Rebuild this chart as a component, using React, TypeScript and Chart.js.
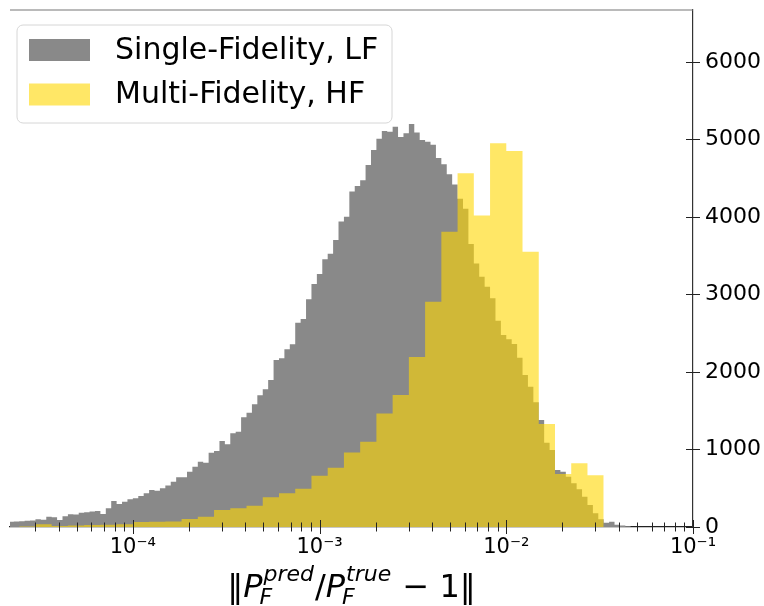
import React, { useEffect, useRef } from 'react';
import { Chart, registerables } from 'chart.js';

Chart.register(...registerables);

// ---------------- data ----------------
const X_MIN_EXP = -4.658;
const X_MAX_EXP = -1;
const Y_MAX = 6670;
const Y_TICKS = [0, 1000, 2000, 3000, 4000, 5000, 6000];
const X_MAJOR_EXPONENTS = [-4, -3, -2, -1];
const X_TICK_LABELS = ['10⁻⁴', '10⁻³', '10⁻²', '10⁻¹'];

const LF_LABEL = 'Single-Fidelity, LF';
const HF_LABEL = 'Multi-Fidelity, HF';

// log10 bin edges: first edge and bin width (decades)
const LF_LOG_BIN = 6 / 207;
const LF_LOG_START = -2 - 93 * LF_LOG_BIN;
const LF_COUNTS = [
  65, 69, 70, 75, 82, 85, 99, 95, 133, 125,
  90, 140, 163, 160, 185, 190, 200, 206, 168, 241,
  335, 297, 327, 357, 370, 400, 434, 477, 467, 499,
  535, 585, 641, 641, 714, 778, 843, 830, 959, 981,
  1110, 1067, 1209, 1230, 1415, 1475, 1583, 1700, 1776, 1897,
  2155, 2176, 2292, 2357, 2636, 2684, 2938, 3135, 3265, 3455,
  3525, 3703, 3940, 4004, 4327, 4400, 4473, 4671, 4865, 5010,
  5110, 5100, 5165, 5030, 5080, 5200, 5088, 4994, 4970, 4930,
  4760, 4680, 4550, 4420, 4235, 4105, 3650, 3400, 3230, 3100,
  2950, 2662, 2477, 2422, 2361, 2185, 1961, 1810, 1609, 1380,
  1088, 994, 735, 714, 649, 563, 486, 391, 284, 177,
  99, 56, 69, 30, 20, 10,
];

const HF_LOG_BIN = 6 / 69;
const HF_LOG_START = -2 - 30 * HF_LOG_BIN;
const HF_COUNTS = [
  5, 35, 12, 20, 25, 30, 35, 65, 69, 72,
  103, 133, 219, 241, 275, 383, 435, 495, 660, 763,
  960, 1101, 1465, 1703, 2192, 2907, 3810, 4565, 4020, 4950,
  4850, 3550, 1328, 685, 822, 667,
];

const LF_COLOR = 'rgb(137,137,137)';
const HF_COLOR = 'rgba(255,215,0,0.6)';

// ---------------- helpers ----------------
function histPoints(start: number, bin: number, counts: number[]) {
  const edge = (i: number) => Math.pow(10, start + i * bin);
  const pts: { x: number; y: number }[] = [{ x: edge(0), y: 0 }];
  counts.forEach((c, i) => pts.push({ x: edge(i), y: c }));
  const n = counts.length;
  pts.push({ x: edge(n), y: counts[n - 1] });
  pts.push({ x: edge(n), y: 0 });
  return pts;
}

const FONT = "'DejaVu Sans'";

function drawTitle(ctx: CanvasRenderingContext2D, cx: number, baseline: number) {
  const S = 32;
  const s = 22;
  const up = `${S}px ${FONT}`;
  const it = `italic ${S}px ${FONT}`;
  const sit = `italic ${s}px ${FONT}`;
  type Part = { t?: string; f?: string; sup?: string; sub?: string };
  const parts: Part[] = [
    { t: '‖', f: up },
    { t: 'P', f: it },
    { sup: 'pred', sub: 'F' },
    { t: '/', f: up },
    { t: 'P', f: it },
    { sup: 'true', sub: 'F' },
    { t: ' − ', f: up },
    { t: '1', f: up },
    { t: '‖', f: up },
  ];
  const widths = parts.map((p) => {
    if (p.t) {
      ctx.font = p.f as string;
      return ctx.measureText(p.t).width;
    }
    ctx.font = sit;
    return Math.max(ctx.measureText(p.sup as string).width, ctx.measureText(p.sub as string).width) + 2;
  });
  const total = widths.reduce((a, b) => a + b, 0);
  let x = cx - total / 2;
  ctx.fillStyle = '#000';
  ctx.textAlign = 'left';
  ctx.textBaseline = 'alphabetic';
  parts.forEach((p, i) => {
    if (p.t) {
      ctx.font = p.f as string;
      ctx.fillText(p.t, x, baseline);
    } else {
      ctx.font = sit;
      ctx.fillText(p.sup as string, x + 1, baseline - 16);
      ctx.fillText(p.sub as string, x - 3, baseline + 7);
    }
    x += widths[i];
  });
}

const decorPlugin = {
  id: 'decor',
  afterDraw(chart: any) {
    const ctx: CanvasRenderingContext2D = chart.ctx;
    const { left, right, top, bottom } = chart.chartArea;
    const xs = chart.scales.x;
    const ys = chart.scales.y;
    ctx.save();
    // top spine
    ctx.strokeStyle = '#777';
    ctx.lineWidth = 1.2;
    ctx.beginPath();
    ctx.moveTo(left, top);
    ctx.lineTo(right, top);
    ctx.stroke();
    // x ticks (in-out)
    ctx.strokeStyle = '#222';
    ctx.lineWidth = 1;
    for (let e = -5; e <= -1; e++) {
      for (let m = 1; m <= 9; m++) {
        const v = m * Math.pow(10, e);
        if (v < xs.min * 0.999 || v > xs.max * 1.001) continue;
        const px = Math.round(xs.getPixelForValue(v)) + 0.5;
        const len = m === 1 ? 7 : 4.5;
        ctx.beginPath();
        ctx.moveTo(px, bottom - len);
        ctx.lineTo(px, bottom + len);
        ctx.stroke();
      }
    }
    // y ticks (in-out)
    Y_TICKS.forEach((v) => {
      const py = Math.round(ys.getPixelForValue(v)) + 0.5;
      ctx.beginPath();
      ctx.moveTo(right - 7, py);
      ctx.lineTo(right + 7, py);
      ctx.stroke();
    });
    // axis title
    drawTitle(ctx, (left + right) / 2, 597);

    // legend
    const bx = 17, by = 25, bw = 375, bh = 98, r = 6;
    ctx.beginPath();
    ctx.moveTo(bx + r, by);
    ctx.lineTo(bx + bw - r, by);
    ctx.arcTo(bx + bw, by, bx + bw, by + r, r);
    ctx.lineTo(bx + bw, by + bh - r);
    ctx.arcTo(bx + bw, by + bh, bx + bw - r, by + bh, r);
    ctx.lineTo(bx + r, by + bh);
    ctx.arcTo(bx, by + bh, bx, by + bh - r, r);
    ctx.lineTo(bx, by + r);
    ctx.arcTo(bx, by, bx + r, by, r);
    ctx.closePath();
    ctx.fillStyle = 'rgba(255,255,255,0.8)';
    ctx.fill();
    ctx.strokeStyle = '#d6d6d6';
    ctx.lineWidth = 1;
    ctx.stroke();
    const items = [chart.data.datasets[0], chart.data.datasets[1]];
    items.forEach((ds: any, i: number) => {
      const cy = 50 + i * 44.5;
      ctx.fillStyle = ds.backgroundColor;
      ctx.fillRect(29, cy - 11, 61, 22);
      ctx.fillStyle = '#000';
      ctx.font = `30px ${FONT}`;
      ctx.textAlign = 'left';
      ctx.textBaseline = 'middle';
      ctx.fillText(ds.label, 115, cy + 1);
    });
    ctx.restore();
  },
};

export default function App() {
  const ref = useRef<HTMLCanvasElement | null>(null);
  useEffect(() => {
    if (!ref.current) return;
    Chart.defaults.font.family = FONT;
    Chart.defaults.color = '#000';
    const chart = new Chart(ref.current, {
      type: 'line',
      data: {
        datasets: [
          {
            label: LF_LABEL,
            data: histPoints(LF_LOG_START, LF_LOG_BIN, LF_COUNTS),
            stepped: 'before',
            fill: 'origin',
            backgroundColor: LF_COLOR,
            borderColor: 'rgba(0,0,0,0)',
            borderWidth: 0,
            pointRadius: 0,
            tension: 0,
            order: 2,
          },
          {
            label: HF_LABEL,
            data: histPoints(HF_LOG_START, HF_LOG_BIN, HF_COUNTS),
            stepped: 'before',
            fill: 'origin',
            backgroundColor: HF_COLOR,
            borderColor: 'rgba(0,0,0,0)',
            borderWidth: 0,
            pointRadius: 0,
            tension: 0,
            order: 1,
          },
        ],
      },
      options: {
        responsive: false,
        animation: false,
        layout: { padding: { left: 10, top: 10, right: 0, bottom: 0 } },
        plugins: { legend: { display: false }, tooltip: { enabled: false } },
        scales: {
          x: {
            type: 'logarithmic',
            min: Math.pow(10, X_MIN_EXP),
            max: Math.pow(10, X_MAX_EXP),
            afterBuildTicks: (scale: any) => {
              scale.ticks = X_MAJOR_EXPONENTS.map((e) => ({ value: Math.pow(10, e) }));
            },
            afterFit: (scale: any) => {
              scale.height = 79;
              scale.paddingLeft = 0;
              scale.paddingRight = 0;
            },
            ticks: {
              autoSkip: false,
              maxRotation: 0,
              padding: 8,
              font: { size: 21 },
              color: '#000',
              callback: (_v: any, i: number) => X_TICK_LABELS[i],
            },
            grid: { display: false, drawTicks: false },
            border: { display: true, color: '#222', width: 1.2 },
          },
          y: {
            type: 'linear',
            position: 'right',
            min: 0,
            max: Y_MAX,
            afterBuildTicks: (scale: any) => {
              scale.ticks = Y_TICKS.map((v) => ({ value: v }));
            },
            afterFit: (scale: any) => {
              scale.width = 71;
              scale.paddingTop = 0;
              scale.paddingBottom = 0;
            },
            ticks: {
              padding: 12,
              font: { size: 22 },
              color: '#000',
              callback: (v: any) => String(v),
            },
            grid: { display: false, drawTicks: false },
            border: { display: true, color: '#333', width: 1.2 },
          },
        },
      },
      plugins: [decorPlugin],
    } as any);
    return () => chart.destroy();
  }, []);
  return (
    <div style={{ position: 'fixed', left: 0, top: 0, width: 764, height: 606, background: '#fff' }}>
      <canvas ref={ref} width={764} height={606} style={{ display: 'block' }} />
    </div>
  );
}
